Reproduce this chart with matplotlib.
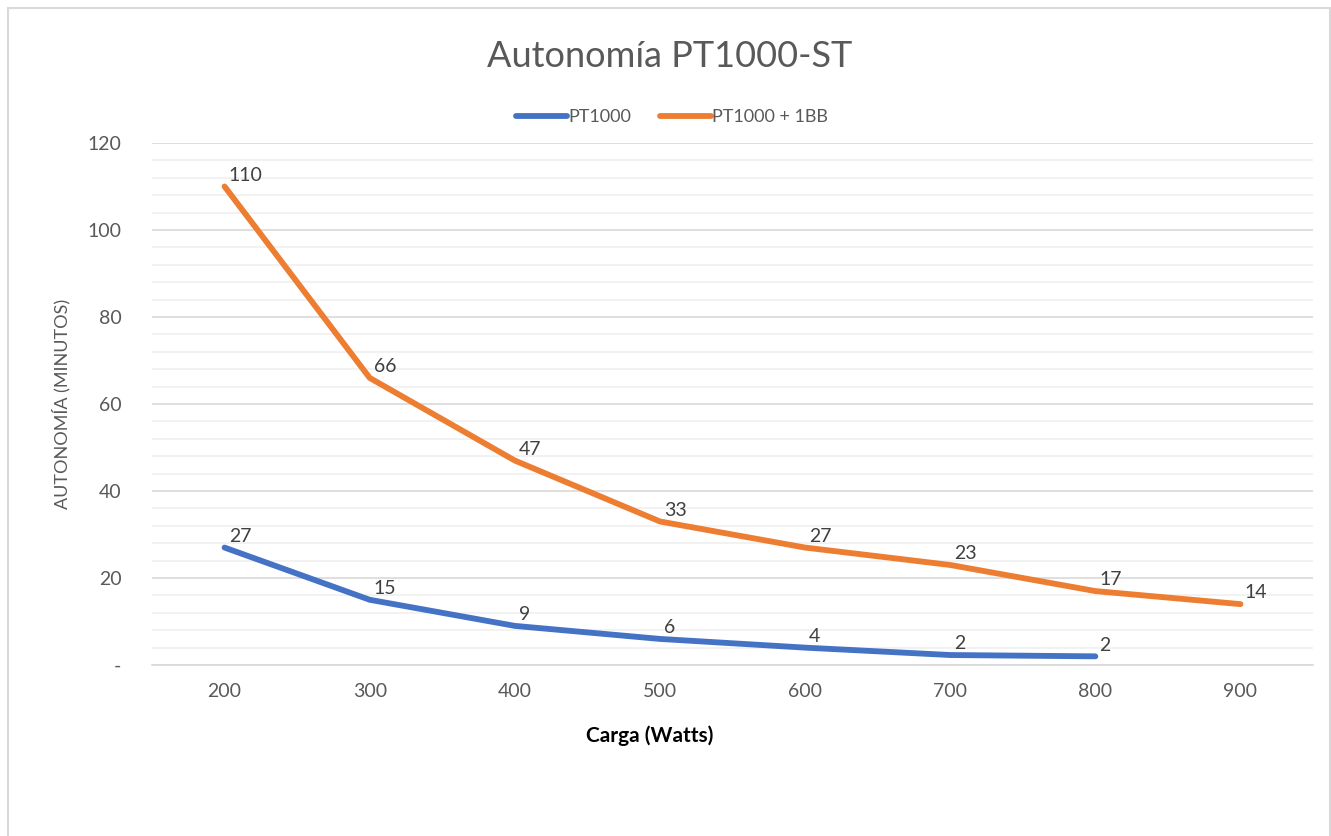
import numpy as np
import matplotlib.pyplot as plt
from matplotlib.patches import Rectangle
from matplotlib.ticker import MultipleLocator, FuncFormatter

plt.rcParams['font.family'] = ['Lato', 'DejaVu Sans']

# Data
cargas = ["200", "300", "400", "500", "600", "700", "800", "900"]
pt1000 = [27, 15, 9, 6, 4, 2.3, 2]
pt1000_1bb = [110, 66, 47, 33, 27, 23, 17, 14]

blue = "#4472C4"
orange = "#ED7D31"
text_grey = "#595959"

fig = plt.figure(figsize=(13.31, 8.36), dpi=100)
ax = fig.add_axes([0.1142, 0.2045, 0.8723, 0.6245])

# light chart border like the Excel chart area
fig.patches.append(Rectangle((8 / 1331, -0.05), 1322 / 1331, 1.05 - 8 / 836,
                             transform=fig.transFigure, fill=False,
                             edgecolor="#d9d9d9", linewidth=1.5))

x = np.arange(len(cargas))
ax.plot(x[:len(pt1000)], pt1000, color=blue, lw=4.2, solid_capstyle="round",
        solid_joinstyle="round", label="PT1000", zorder=3)
ax.plot(x, pt1000_1bb, color=orange, lw=4.2, solid_capstyle="round",
        solid_joinstyle="round", label="PT1000 + 1BB", zorder=3)

for xs, ys in [(x[:len(pt1000)], pt1000), (x, pt1000_1bb)]:
    for xi, yi in zip(xs, ys):
        ax.annotate(f"{yi:.0f}", (xi, yi), xytext=(3, 2), textcoords="offset points",
                    ha="left", va="bottom", fontsize=14, color="#404040", zorder=4)

ax.set_xlim(-0.5, len(cargas) - 0.5)
ax.set_ylim(0, 120)
ax.set_xticks(x)
ax.set_xticklabels(cargas)
ax.yaxis.set_major_locator(MultipleLocator(20))
ax.yaxis.set_minor_locator(MultipleLocator(4))
ax.yaxis.set_major_formatter(FuncFormatter(lambda v, p: "-" if v == 0 else f"{v:.0f}"))
ax.grid(axis="y", which="major", color="#d9d9d9", lw=1.2, zorder=0)
ax.grid(axis="y", which="minor", color="#f0f0f0", lw=1.2, zorder=0)
ax.tick_params(axis="both", which="both", length=0, labelsize=14, colors=text_grey)
ax.tick_params(axis="x", pad=13)
ax.tick_params(axis="y", pad=22)
for s in ["top", "right", "left"]:
    ax.spines[s].set_visible(False)
ax.spines["bottom"].set_color("#d9d9d9")
ax.spines["bottom"].set_linewidth(1.2)

ax.set_ylabel("AUTONOMÍA (MINUTOS)", fontsize=13, color=text_grey, labelpad=12)
ax.set_xlabel("Carga (Watts)", fontsize=15, fontweight="bold", color="black", labelpad=14)
ax.xaxis.set_label_coords(0.429, -0.115)

fig.text(0.503, 0.933, "Autonomía PT1000-ST", ha="center", va="center",
         fontsize=26, color=text_grey)

fig.legend(loc="center", bbox_to_anchor=(0.505, 0.86), ncol=2, frameon=False,
           fontsize=13, handlelength=2.8, handletextpad=0.1, columnspacing=1.6,
           labelcolor=text_grey)

fig.savefig("out.png", dpi=100)
